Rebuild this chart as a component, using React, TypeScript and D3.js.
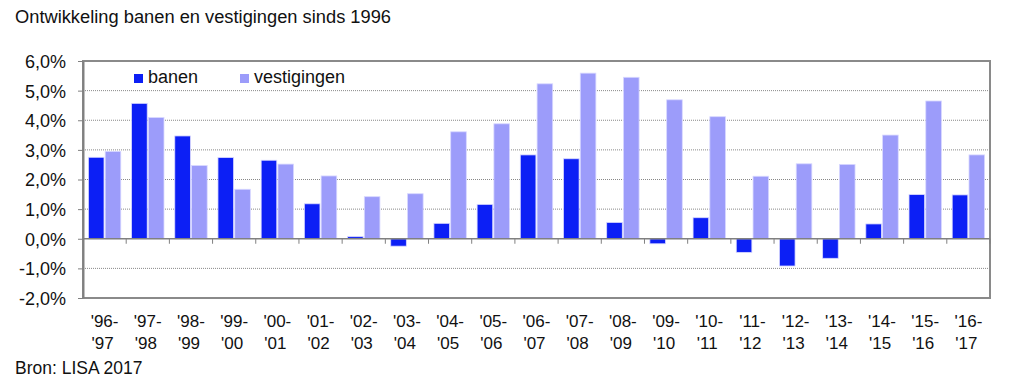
import React, { useEffect, useRef } from 'react';
import * as d3 from 'd3';

const periods = ["'96-|'97", "'97-|'98", "'98-|'99", "'99-|'00", "'00-|'01", "'01-|'02", "'02-|'03", "'03-|'04", "'04-|'05", "'05-|'06", "'06-|'07", "'07-|'08", "'08-|'09", "'09-|'10", "'10-|'11", "'11-|'12", "'12-|'13", "'13-|'14", "'14-|'15", "'15-|'16", "'16-|'17"];
const banen = [2.75, 4.57, 3.47, 2.74, 2.65, 1.18, 0.07, -0.25, 0.52, 1.16, 2.83, 2.70, 0.55, -0.17, 0.71, -0.46, -0.92, -0.66, 0.50, 1.49, 1.48];
const vestigingen = [2.95, 4.09, 2.47, 1.67, 2.52, 2.12, 1.42, 1.52, 3.61, 3.88, 5.23, 5.59, 5.45, 4.69, 4.12, 2.11, 2.53, 2.51, 3.50, 4.65, 2.83];
const seriesNames = ['banen', 'vestigingen'];
const seriesColors = ['#0c1ff5', '#9c9cfa'];
const yTicks = [-2, -1, 0, 1, 2, 3, 4, 5, 6];

const App: React.FC = () => {
  const ref = useRef<SVGSVGElement>(null);

  useEffect(() => {
    if (!ref.current) return;
    const svg = d3.select(ref.current);
    svg.selectAll('*').remove();

    const left = 83, right = 990, top = 61, bottom = 298;
    const font = 'Liberation Sans, Arial, Helvetica, sans-serif';

    const x = d3.scaleBand<string>()
      .domain(periods)
      .range([left, right])
      .paddingInner(0.25)
      .paddingOuter(0.125);
    const xs = d3.scaleBand<string>()
      .domain(seriesNames)
      .range([0, x.bandwidth()])
      .paddingInner(0.07);
    const y = d3.scaleLinear().domain([-2, 6]).range([bottom, top]);

    // title
    svg.append('text')
      .attr('x', 15).attr('y', 23)
      .attr('font-family', font).attr('font-size', 18.3)
      .attr('fill', '#111')
      .text('Ontwikkeling banen en vestigingen sinds 1996');

    // gridlines
    svg.append('g')
      .selectAll('line')
      .data(yTicks.filter(d => d !== 0 && d !== -2 && d !== 6))
      .join('line')
      .attr('x1', left).attr('x2', right)
      .attr('y1', d => y(d)).attr('y2', d => y(d))
      .attr('stroke', '#888').attr('stroke-width', 1)
      .attr('stroke-dasharray', '1,1');

    // plot frame
    svg.append('rect')
      .attr('x', left).attr('y', top)
      .attr('width', right - left).attr('height', bottom - top)
      .attr('fill', 'none').attr('stroke', '#8a8a8a').attr('stroke-width', 2);

    // bars
    const series = [banen, vestigingen];
    series.forEach((vals, si) => {
      svg.append('g')
        .selectAll('rect')
        .data(vals)
        .join('rect')
        .attr('x', (d, i) => (x(periods[i]) || 0) + (xs(seriesNames[si]) || 0))
        .attr('width', xs.bandwidth())
        .attr('y', d => y(Math.max(0, d)))
        .attr('height', d => Math.abs(y(d) - y(0)))
        .attr('fill', seriesColors[si])
        .attr('stroke', '#d8d8ff')
        .attr('stroke-width', 0.8);
    });

    // y axis
    const yAxis = svg.append('g')
      .attr('transform', `translate(${left},0)`)
      .call(d3.axisLeft(y).tickValues(yTicks).tickSize(5).tickSizeOuter(0)
        .tickFormat(d => `${(d as number).toFixed(1).replace('.', ',')}%`));
    yAxis.select('.domain').attr('stroke', '#808080').attr('stroke-width', 2);
    yAxis.selectAll('.tick line').attr('stroke', '#808080');
    yAxis.selectAll('.tick text')
      .attr('font-family', font).attr('font-size', 18).attr('fill', '#111')
      .attr('x', -17).attr('dy', '0.36em');

    // zero axis with ticks between categories
    svg.append('line')
      .attr('x1', left).attr('x2', right)
      .attr('y1', y(0)).attr('y2', y(0))
      .attr('stroke', '#808080').attr('stroke-width', 1.5);
    svg.append('g')
      .selectAll('line')
      .data(periods.slice(1).concat(['end']))
      .join('line')
      .attr('x1', (d, i) => x.step() * (i + 1) + left)
      .attr('x2', (d, i) => x.step() * (i + 1) + left)
      .attr('y1', y(0)).attr('y2', y(0) + 5)
      .attr('stroke', '#808080');

    // x labels
    const xl = svg.append('g')
      .selectAll('text')
      .data(periods)
      .join('text')
      .attr('x', d => (x(d) || 0) + x.bandwidth() / 2)
      .attr('text-anchor', 'middle')
      .attr('font-family', font).attr('font-size', 17).attr('fill', '#111');
    xl.append('tspan').attr('y', 327).text(d => d.split('|')[0]);
    xl.append('tspan')
      .attr('x', d => (x(d) || 0) + x.bandwidth() / 2 - 2)
      .attr('y', 349).text(d => d.split('|')[1]);

    // legend
    const legendX = [134, 240];
    seriesNames.forEach((name, i) => {
      svg.append('rect')
        .attr('x', legendX[i]).attr('y', 74)
        .attr('width', 9).attr('height', 9)
        .attr('fill', seriesColors[i]);
      svg.append('text')
        .attr('x', legendX[i] + 14).attr('y', 83)
        .attr('font-family', font).attr('font-size', 18).attr('fill', '#111')
        .text(name);
    });

    // source
    svg.append('text')
      .attr('x', 15).attr('y', 374)
      .attr('font-family', font).attr('font-size', 17.5).attr('fill', '#111')
      .text('Bron: LISA 2017');
  }, []);

  return (
    <svg ref={ref} width={1024} height={392}
      style={{ position: 'absolute', left: 0, top: 0, background: '#fff' }} />
  );
};

export default App;
